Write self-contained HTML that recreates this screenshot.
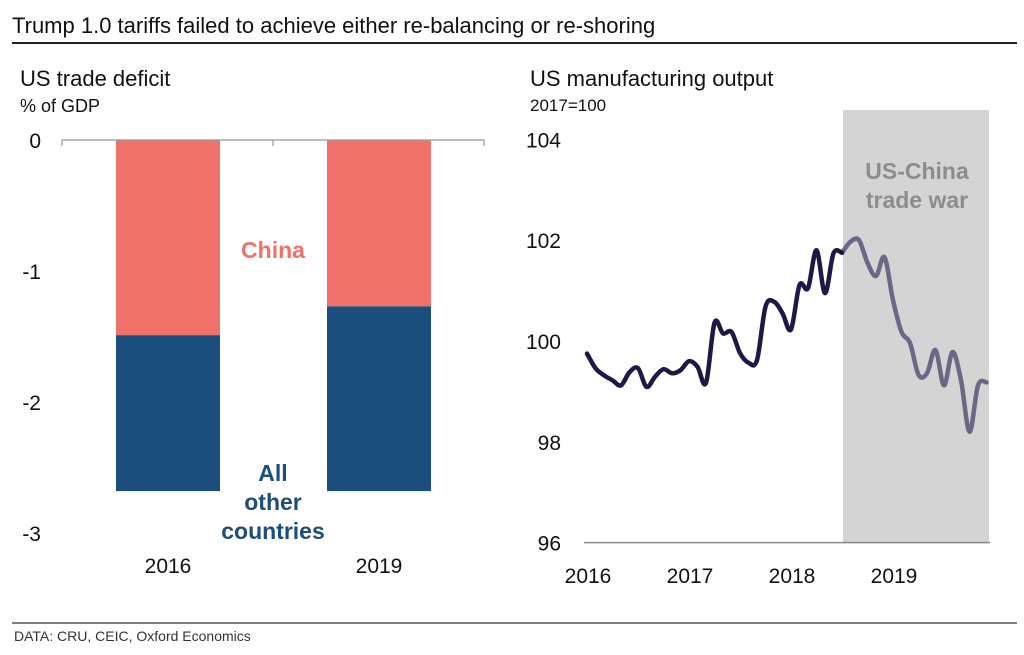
<!DOCTYPE html>
<html><head><meta charset="utf-8">
<style>
html,body{margin:0;padding:0;background:#fff;}
svg{display:block;font-family:"Liberation Sans",Arial,sans-serif;}
</style></head>
<body>
<svg id="chart" width="1024" height="655" viewBox="0 0 1024 655" xmlns="http://www.w3.org/2000/svg">
<text x="12" y="33" font-size="22" fill="#111">Trump 1.0 tariffs failed to achieve either re-balancing or re-shoring</text>
<line x1="12" y1="43" x2="1017" y2="43" stroke="#222" stroke-width="2"/>
<text x="20" y="86" font-size="22" fill="#111">US trade deficit</text>
<text x="20" y="112" font-size="18" fill="#111">% of GDP</text>
<text x="530" y="86" font-size="22" fill="#111">US manufacturing output</text>
<text x="530" y="111" font-size="17" fill="#111">2017=100</text>
<g id="bars"></g>
<g id="line"></g>
<line x1="12" y1="623" x2="1017" y2="623" stroke="#555" stroke-width="1.5"/>
<text x="14" y="641" font-size="14" fill="#333">DATA: CRU, CEIC, Oxford Economics</text>
</svg>
<script>
const barYears = ["2016", "2019"];
const chinaDeficit = [-1.49, -1.27];
const otherDeficit = [-1.19, -1.41];
const barTicks = [0, -1, -2, -3];

const months = 48;
const output = [99.75,99.46,99.32,99.22,99.12,99.38,99.46,99.09,99.29,99.44,99.36,99.42,
99.60,99.49,99.17,100.36,100.15,100.18,99.76,99.57,99.62,100.68,100.78,100.55,
100.23,101.11,101.05,101.80,100.95,101.74,101.75,101.97,102.00,101.55,101.29,101.66,
100.81,100.18,99.96,99.33,99.36,99.82,99.12,99.78,99.22,98.20,99.12,99.18];
const outTicks = [104, 102, 100, 98, 96];
const yearLabels = ["2016", "2017", "2018", "2019"];
const warStartMonth = 30;

const NS = "http://www.w3.org/2000/svg";
function mk(tag, attrs, parent, text) {
  const e = document.createElementNS(NS, tag);
  for (const k in attrs) e.setAttribute(k, attrs[k]);
  if (text !== undefined) e.textContent = text;
  parent.appendChild(e);
  return e;
}
// Bar chart
const bg = document.getElementById("bars");
const by = v => 140 + (-v) * 131;
const bx = i => 168 + i * 211;
barTicks.forEach(t => {
  const el = mk("text", {x: 41, y: by(t) + 8, "font-size": 21, fill: "#111", "text-anchor": "end"}, bg, String(t));
  
  
});
barYears.forEach((yr, i) => {
  const c = mk("rect", {x: bx(i) - 52, y: by(0), width: 104, height: by(chinaDeficit[i]) - by(0), fill: "#f0716a"}, bg);
  
  
  const tot = chinaDeficit[i] + otherDeficit[i];
  const o = mk("rect", {x: bx(i) - 52, y: by(chinaDeficit[i]), width: 104, height: by(tot) - by(chinaDeficit[i]), fill: "#1b4e7c"}, bg);
  
  
  const l = mk("text", {x: bx(i), y: 573, "font-size": 21, fill: "#111", "text-anchor": "middle"}, bg, yr);
  
  
});
const ax = mk("path", {d: "M62,146V140H484V146M273,140V146", stroke: "#999", fill: "none", "stroke-width": 1.2}, bg);


const cl = mk("text", {x: 273, y: 258, "font-size": 23, "font-weight": "bold", fill: "#f0716a", "text-anchor": "middle"}, bg, "China");


["All", "other", "countries"].forEach((w, k) => {
  const t = mk("text", {x: 273, y: 481 + k * 29, "font-size": 23, "font-weight": "bold", fill: "#1b4e7c", "text-anchor": "middle"}, bg, w);
  
  
});
// Line chart
const lg = document.getElementById("line");
const lx = i => 587 + i * 8.5;
const ly = v => 341 - (v - 100) * 50.4;
const sh = mk("rect", {x: lx(warStartMonth) + 1, y: 110, width: 989 - lx(warStartMonth) - 1, height: ly(96) - 110, fill: "#d4d4d4"}, lg);


const sl = mk("text", {x: 917, y: 179, "font-size": 23, "font-weight": "bold", fill: "#8c8c8c", "text-anchor": "middle"}, lg, "US-China");


const sl2 = mk("text", {x: 917, y: 208, "font-size": 23, "font-weight": "bold", fill: "#8c8c8c", "text-anchor": "middle"}, lg, "trade war");


outTicks.forEach(t => {
  const el = mk("text", {x: 561, y: ly(t) + 8, "font-size": 21, fill: "#111", "text-anchor": "end"}, lg, String(t));
  
  
});
yearLabels.forEach((yr, k) => {
  const el = mk("text", {x: lx(k * 12) + 1, y: 583, "font-size": 21, fill: "#111", "text-anchor": "middle"}, lg, yr);
  
  
});
const xa = mk("line", {x1: 584, y1: ly(96), x2: 990, y2: ly(96), stroke: "#888", "stroke-width": 1.5}, lg);


function smooth(pts) {
  let d = "M" + pts[0][0] + "," + pts[0][1];
  for (let i = 0; i < pts.length - 1; i++) {
    const p0 = pts[Math.max(0, i - 1)], p1 = pts[i], p2 = pts[i + 1], p3 = pts[Math.min(pts.length - 1, i + 2)];
    const c1x = p1[0] + (p2[0] - p0[0]) / 6, c1y = p1[1] + (p2[1] - p0[1]) / 6;
    const c2x = p2[0] - (p3[0] - p1[0]) / 6, c2y = p2[1] - (p3[1] - p1[1]) / 6;
    d += "C" + c1x + "," + c1y + " " + c2x + "," + c2y + " " + p2[0] + "," + p2[1];
  }
  return d;
}
const pre = [], post = [];
output.forEach((v, i) => {
  if (i <= warStartMonth) pre.push([lx(i), ly(v)]);
  if (i >= warStartMonth) post.push([lx(i), ly(v)]);
});
const p2 = mk("path", {d: smooth(post), stroke: "#6b6784", "stroke-width": 4.5, fill: "none", "stroke-linejoin": "round", "stroke-linecap": "round"}, lg);


const p1 = mk("path", {d: smooth(pre), stroke: "#1d1848", "stroke-width": 4.5, fill: "none", "stroke-linejoin": "round", "stroke-linecap": "round"}, lg);


</script>
</body></html>
